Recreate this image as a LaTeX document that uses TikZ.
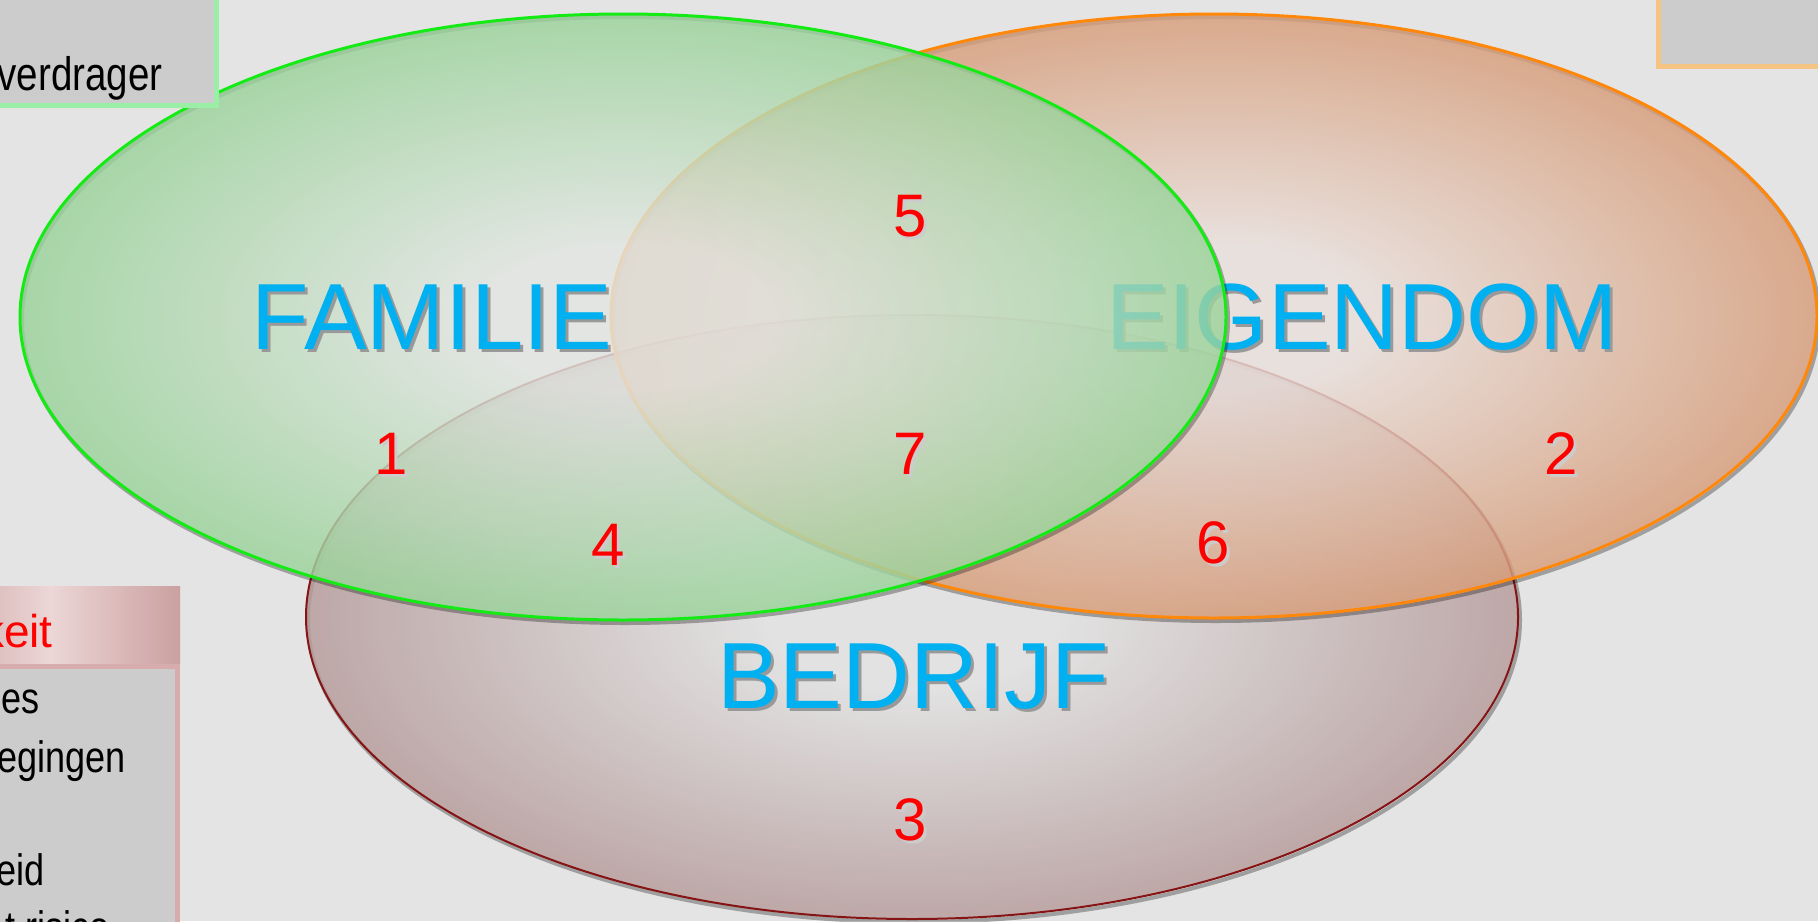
\documentclass[tikz,border=0pt]{standalone}
\usepackage{fontspec}
\setmainfont{Liberation Sans}
\newfontfamily\narrowfont[FakeStretch=0.82]{Liberation Sans}

\definecolor{bg}{RGB}{228,228,228}
\definecolor{boxgray}{RGB}{204,204,204}
\definecolor{labelblue}{RGB}{0,176,240}
\definecolor{famline}{RGB}{20,235,20}
\definecolor{famin}{RGB}{226,230,226}
\definecolor{famout}{RGB}{128,204,128}
\definecolor{eigline}{RGB}{255,135,10}
\definecolor{eigin}{RGB}{234,224,220}
\definecolor{eigout}{RGB}{208,132,85}
\definecolor{bedline}{RGB}{135,20,20}
\definecolor{bedin}{RGB}{226,226,226}
\definecolor{bedout}{RGB}{165,128,128}
\definecolor{greenrim}{RGB}{155,238,165}
\definecolor{orangerim}{RGB}{245,195,130}
\definecolor{pinkrim}{RGB}{215,172,172}
\definecolor{pinkdark}{RGB}{203,160,160}
\definecolor{pinklight}{RGB}{236,214,214}

\pgfdeclareradialshading{famshade}{\pgfpoint{0bp}{0bp}}{color(0bp)=(famin); color(6bp)=(famin); color(32bp)=(famout); color(50bp)=(famout)}
\pgfdeclareradialshading{eigshade}{\pgfpoint{0bp}{0bp}}{color(0bp)=(eigin); color(6bp)=(eigin); color(32bp)=(eigout); color(50bp)=(eigout)}
\pgfdeclareradialshading{bedshade}{\pgfpoint{0bp}{0bp}}{color(0bp)=(bedin); color(6bp)=(bedin); color(32bp)=(bedout); color(50bp)=(bedout)}

\newcommand\shadowtxt[2][black!40]{\rlap{\smash{\hspace{1.5pt}\raisebox{-1.5pt}{\color{#1}#2}}}#2}

\begin{document}
\begin{tikzpicture}[
        x=0.5pt, y=-0.5pt,
        venn/.style={shade, fill opacity=.82,
            preaction={draw=black, draw opacity=.3, line width=2pt,
                transform canvas={shift={(1pt,-1.5pt)}}}},
        biglabel/.style={text=labelblue, inner sep=0pt,
            font=\fontsize{47}{56}\selectfont},
        numlabel/.style={text=red, inner sep=0pt,
            font=\fontsize{30}{36}\selectfont},
        boxtext/.style={inner sep=0pt, anchor=base east,
            font=\narrowfont\fontsize{22}{28}\selectfont},
    ]
    \useasboundingbox (0,0) rectangle (1818,921);
    \clip (0,0) rectangle (1818,921);
    \fill[bg] (0,0) rectangle (1818,921);

    % the three circles
    \path[venn, shading=bedshade, draw=bedline, line width=1pt]
        (912,617) ellipse [x radius=606, y radius=302];
    \path[venn, shading=eigshade, draw=eigline, line width=1.5pt]
        (1214,316) ellipse [x radius=603, y radius=302];
    \node[biglabel] (eig) at (1362,317) {\shadowtxt{EIGENDOM}};
    \path[venn, shading=famshade, draw=famline, line width=1.5pt]
        (623,317) ellipse [x radius=603, y radius=303];

    \node[biglabel] (fam) at (432,317) {\shadowtxt{FAMILIE}};
    \node[biglabel] (bed) at (913,677) {\shadowtxt{BEDRIJF}};

    \node[numlabel] (n1) at (391,454) {\shadowtxt[black!20]{1}};
    \node[numlabel] (n2) at (1561,454) {\shadowtxt[black!20]{2}};
    \node[numlabel] (n3) at (910,820) {\shadowtxt[black!20]{3}};
    \node[numlabel] (n4) at (608,545) {\shadowtxt[black!20]{4}};
    \node[numlabel] (n5) at (910,216) {\shadowtxt[black!20]{5}};
    \node[numlabel] (n6) at (1213,543) {\shadowtxt[black!20]{6}};
    \node[numlabel] (n7) at (910,454) {\shadowtxt[black!20]{7}};

    % side boxes
    \draw[greenrim, fill=boxgray, line width=2.5pt] (-10,-10) rectangle (216,105);
    \node[boxtext, font=\narrowfont\fontsize{23.5}{29}\selectfont] (verdr) at (163,90) {verdrager};

    \draw[orangerim, fill=boxgray, line width=2.5pt] (1658.5,-10) rectangle (1830,66.5);

    \shade[left color=pinkdark, right color=pinkdark, middle color=pinklight]
        (-80,586) rectangle (180,664);
    \node[boxtext, text=red, font=\fontsize{23}{28}\selectfont] (kop) at (53,647) {keit};
    \draw[pinkrim, fill=boxgray, line width=2.5pt] (-10,666.5) rectangle (177.5,960);
    \node[boxtext] (r1) at (40,713) {es};
    \node[boxtext] (r2) at (126,772) {egingen};
    \node[boxtext] (r3) at (45,885) {eid};
    \node[boxtext] (r4) at (110,942) {t risico};
\end{tikzpicture}
\end{document}
